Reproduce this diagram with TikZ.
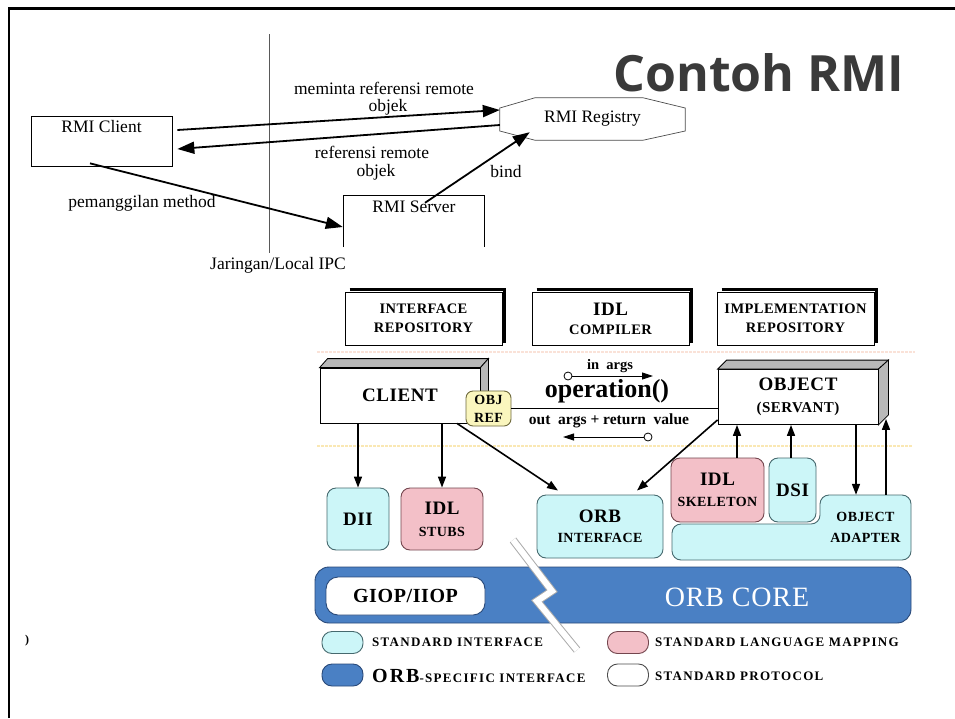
\documentclass[tikz,border=0pt]{standalone}
\usepackage{fontspec}
\setmainfont{Liberation Serif}
\newfontfamily\titlefont{Open Sans}
\newfontfamily\cfa[LetterSpace=3]{Liberation Serif}
\newfontfamily\cfs[LetterSpace=10]{Liberation Serif}
\usetikzlibrary{arrows.meta,calc}
\definecolor{cyanf}{RGB}{204,246,248}
\definecolor{cyand}{RGB}{70,105,110}
\definecolor{pinkf}{RGB}{243,192,200}
\definecolor{pinkd}{RGB}{115,70,78}
\definecolor{orbblue}{RGB}{74,128,196}
\definecolor{orbd}{RGB}{40,72,120}
\definecolor{yel}{RGB}{250,246,190}
\definecolor{yeld}{RGB}{110,105,60}
\definecolor{titlec}{RGB}{58,58,58}
\definecolor{faintp}{RGB}{250,226,216}
\definecolor{fainty}{RGB}{250,232,180}
\newcommand\mybig{\fontsize{19}{20}\selectfont}
\begin{document}
\begin{tikzpicture}[x=1pt,y=-1pt,
  rmit/.style={font=\fontsize{17.5}{19}\selectfont, inner sep=0pt},
  rarr/.style={line width=1.8pt, -{Triangle[length=17pt,width=12pt]}},
  carr/.style={line width=1.6pt, -{Triangle[length=11pt,width=8pt]}},
  cb/.style={font=\cfa\bfseries\fontsize{14.5}{19}\selectfont, align=center, inner sep=0pt},
  cyanbox/.style={cb, draw=cyand, fill=cyanf, rounded corners=9pt, line width=0.9pt},
  pinkbox/.style={cb, draw=pinkd, fill=pinkf, rounded corners=9pt, line width=0.9pt},
  topbox/.style={cb, draw, line width=0.8pt, minimum width=157pt, minimum height=53pt},
  face/.style={fill=gray!55, draw, line width=0.8pt},
  legtext/.style={font=\cfs\bfseries\fontsize{13}{15}\selectfont, anchor=west, inner sep=0pt},
  legoval/.style={rounded corners=10pt, line width=0.9pt, minimum width=41pt, minimum height=22pt, inner sep=0pt}
]
\useasboundingbox (0,0) rectangle (955,718);
\fill[white] (0,0) rectangle (955,718);
% frame
\draw[line width=2.4pt] (9,718) -- (9,8.5) -- (955,8.5);

% title
\node[font=\titlefont\bfseries\fontsize{50}{54}\selectfont, text=titlec, anchor=base, inner sep=0pt] (title) at (759,91) {Contoh RMI};

% ---------------- RMI ----------------
\draw[gray!70!black, line width=0.8pt] (269,34) -- (269,253);
\node[rmit] (net) at (278,265) {Jaringan/Local IPC};

\node[draw, line width=0.7pt, minimum width=141pt, minimum height=50pt, inner sep=0pt,
      label={[rmit,anchor=north,yshift=-5pt]north:RMI Client}] (cl) at (101.5,141) {};
\node[minimum width=140pt, minimum height=51pt, inner sep=0pt,
      label={[rmit,anchor=north,yshift=-5pt]north:RMI Server}] (sv) at (414,221.5) {};
\draw[line width=0.7pt] (sv.south west) -- (sv.north west) -- (sv.north east) -- (sv.south east);
\node[rmit, minimum width=185pt, minimum height=42pt] (reg) at (592.5,119) {RMI Registry};
\draw[gray!60!black, line width=0.7pt] ($(reg.west)+(0,-11)$) -- ($(reg.north west)+(35,0)$) -- ($(reg.north east)+(-42,0)$) -- ($(reg.east)+(0,-11)$) -- ($(reg.east)+(0,12)$) -- ($(reg.south east)+(-42,0)$) -- ($(reg.south west)+(35,0)$) -- ($(reg.west)+(0,12)$) -- cycle;

\draw[rarr] ($(cl.east)+(5,-11)$) -- ($(reg.west)+(0,-9)$);
\draw[rarr] ($(reg.west)+(0,6)$) -- ($(cl.east)+(5,8)$);
\draw[rarr] ($(cl.south)+(-11.5,-3)$) -- ($(sv.west)+(-1,5.5)$);
\draw[rarr] ($(sv.north)+(11,7)$) -- ($(reg.south west)+(30,-8)$);

\node[rmit] (l1) at (384,88) {meminta referensi remote};
\node[rmit] (l1b) at (388,107) {objek};
\node[rmit] (l2) at (372,152) {referensi remote};
\node[rmit] (l2b) at (376,172) {objek};
\node[rmit] (l3) at (142,203) {pemanggilan method};
\node[rmit] (l4) at (506,172) {bind};

% ---------------- CORBA ----------------
\draw[line width=1.5pt, faintp, dash pattern=on 3pt off 1pt] (317,352) -- (915,352);
\draw[line width=1.5pt, fainty, dash pattern=on 3pt off 1pt] (317,446) -- (913,446);

\node[topbox] (ir) at (423.5,318.5) {INTERFACE\\REPOSITORY};
\node[topbox] (idlc) at (610.5,318.5) {{\mybig IDL}\\COMPILER};
\node[topbox] (impl) at (795.5,318.5) {IMPLEMENTATION\\REPOSITORY};
\foreach \n in {ir,idlc,impl}
  \draw[line width=3pt] ($(\n.north west)+(5,-2)$) -- ($(\n.north east)+(2,-2)$) -- ($(\n.south east)+(2,-2)$);

% client 3D box
\node[draw, fill=white, line width=0.8pt, minimum width=160pt, minimum height=55pt, inner sep=0pt,
      font=\cfa\bfseries\mybig] (client) at (400,395.5) {CLIENT};
\path[face] (client.north west) -- ++(8,-9) -- ($(client.north east)+(8,-9)$) -- (client.north east) -- cycle;
\path[face] (client.north east) -- ++(8,-9) -- ($(client.south east)+(8,-9)$) -- (client.south east) -- cycle;

% object 3D box
\node[draw, fill=white, line width=0.8pt, minimum width=160pt, minimum height=55pt, inner sep=0pt,
      cb] (obj) at (798,397) {{\mybig OBJECT}\\[3pt]{\fontsize{15}{16}\selectfont (SERVANT)}};
\path[face] (obj.north west) -- ++(9,-9) -- ($(obj.north east)+(10,-9)$) -- (obj.north east) -- cycle;
\path[face] (obj.north east) -- ++(10,-9) -- ($(obj.south east)+(10,-10)$) -- (obj.south east) -- cycle;

% obj ref
\node[cb, draw=yeld, fill=yel, rounded corners=7pt, line width=0.9pt, minimum width=45pt, minimum height=35pt,
      font=\cfa\bfseries\fontsize{14}{18}\selectfont] (oref) at (488.5,408.5) {OBJ\\REF};
\draw[line width=0.9pt] (oref.east) -- (oref.east -| obj.west);

\node[font=\bfseries\fontsize{14.5}{16}\selectfont, inner sep=0pt] (inargs) at (610,366) {in\ \ args};
\node[circle, draw, fill=white, line width=0.8pt, minimum size=8pt, inner sep=0pt] (c1) at (568,376) {};
\coordinate (c1e) at (653,376);
\draw[line width=0.9pt, -{Triangle[length=11pt,width=7pt]}] (c1) -- (c1e);
\node[font=\bfseries\fontsize{26}{28}\selectfont, inner sep=0pt] (op) at (607,391) {operation()};
\node[font=\bfseries\fontsize{15.5}{17}\selectfont, inner sep=0pt] (outargs) at (609,421) {out\ \ args + return\ \ value};
\node[circle, draw, fill=white, line width=0.8pt, minimum size=8pt, inner sep=0pt] (c2) at (648,437) {};
\coordinate (c2e) at (563,437);
\draw[line width=0.9pt, -{Triangle[length=11pt,width=7pt]}] (c2) -- (c2e);

% lower boxes
\node[cyanbox, minimum width=62pt, minimum height=62pt, font=\cfa\bfseries\mybig] (dii) at (358,519) {DII};
\node[pinkbox, minimum width=82pt, minimum height=62pt, font=\cfa\bfseries\fontsize{14}{22}\selectfont] (stubs) at (442,519) {{\mybig IDL}\\STUBS};
\node[cyanbox, minimum width=126pt, minimum height=63pt, font=\cfa\bfseries\fontsize{14}{20}\selectfont] (orbi) at (600,526.5) {{\mybig ORB}\\INTERFACE};
\node[pinkbox, minimum width=93pt, minimum height=64pt, font=\cfa\bfseries\fontsize{14}{21}\selectfont] (skel) at (717.5,490) {{\mybig IDL}\\SKELETON};
\node[cyanbox, minimum width=47pt, minimum height=64pt, font=\cfa\bfseries\mybig] (dsi) at (792.5,490) {DSI};
\draw[draw=cyand, fill=cyanf, line width=0.9pt, rounded corners=9pt] (672,560) -- (672,524) -- (820,524) -- (820,495) -- (911,495) -- (911,560) -- cycle;
\node[cb, minimum width=91pt, minimum height=65pt, font=\cfa\bfseries\fontsize{14}{21}\selectfont] (oa) at (865.5,527.5) {OBJECT\\ADAPTER};

% arrows
\draw[carr] (client.south -| dii.north) -- (dii.north);
\draw[carr] (client.south -| stubs.north) -- (stubs.north);
\draw[carr] ($(client.south)+(57,0)$) -- ($(orbi.north)+(-42,-4)$);
\draw[carr] ($(obj.south west)+(0,-5)$) -- ($(orbi.north)+(37,-4)$);
\draw[carr] ([xshift=19.5pt]skel.north) -- ([xshift=19.5pt]skel.north |- obj.south);
\draw[carr] ([xshift=-1.5pt]dsi.north) -- ([xshift=-1.5pt]dsi.north |- obj.south);
\draw[carr] ([xshift=-9.5pt]oa.north |- obj.south) -- ([xshift=-9.5pt]oa.north);
\coordinate (objside) at ($(obj.south east)+(8,-6)$);
\draw[carr] ([xshift=20.5pt]oa.north) -- ([xshift=20.5pt]oa.north |- objside);

% ORB core
\node[draw=orbd, fill=orbblue, rounded corners=14pt, line width=0.9pt, minimum width=596pt, minimum height=56pt, inner sep=0pt] (core) at (613,595) {};
\draw[gray!65, line width=8pt, miter limit=20] (513,540) -- (552,591) -- (537,601) -- (577,650);
\draw[white, line width=6pt, miter limit=20] (513,540) -- (552,591) -- (537,601) -- (577,650);
\node[draw=orbd, fill=white, rounded corners=12pt, line width=0.9pt, minimum width=159pt, minimum height=38pt, inner sep=0pt,
      font=\cfa\bfseries\fontsize{20}{22}\selectfont] (giop) at (405.5,596) {GIOP/IIOP};
\node[font=\cfa\fontsize{28}{30}\selectfont, text=white, inner sep=0pt] (coret) at (737,597) {ORB CORE};

% legend
\node[legoval, draw=cyand, fill=cyanf] (lo1) at (342.5,642.5) {};
\node[legoval, draw=orbd, fill=orbblue] (lo2) at (342.5,675) {};
\node[legoval, draw=pinkd, fill=pinkf] (lo3) at (628,642.5) {};
\node[legoval, draw=gray!60!black, fill=white] (lo4) at (628,675) {};
\node[legtext] (lt1) at (372,642) {STANDARD INTERFACE};
\node[legtext] (lt2) at (372,676) {{\fontsize{20}{22}\selectfont ORB}-SPECIFIC INTERFACE};
\node[legtext] (lt3) at (655,642) {STANDARD LANGUAGE MAPPING};
\node[legtext] (lt4) at (655,676) {STANDARD PROTOCOL};

\node[font=\bfseries\fontsize{12}{14}\selectfont, inner sep=0pt] (paren) at (27,641) {)};
\end{tikzpicture}
\end{document}
